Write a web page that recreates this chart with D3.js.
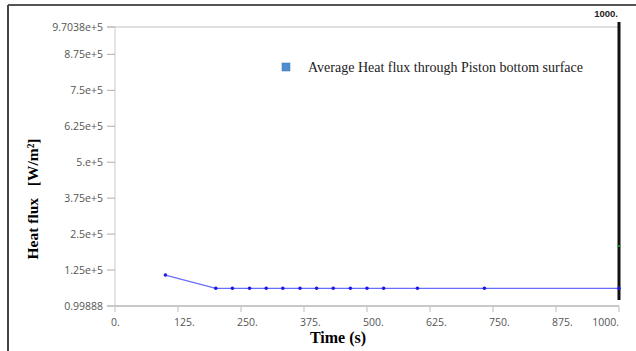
<!DOCTYPE html>
<html lang="en">
<head>
    <meta charset="UTF-8" />
    <title>Heat flux vs time</title>
    <script src="https://d3js.org/d3.v7.min.js"></script>
    <style>
        body { margin: 0; background: #fff; }
        svg { display: block; }
    </style>
</head>
<body>
<div id="chart"></div>
<script>
    // Data
    var times  = [100, 200, 233, 267, 300, 333, 367, 400, 433, 467, 500, 533, 600, 733, 1000];
    var fluxes = [107800, 61600, 61600, 61600, 61600, 61600, 61600, 61600, 61600, 61600, 61600, 61600, 61600, 61600, 61600];
    var xTicks = [0, 125, 250, 375, 500, 625, 750, 875, 1000];
    var yTicks = [0.99888, 125000, 250000, 375000, 500000, 625000, 750000, 875000, 970380];
    var yTickLabels = ["0.99888", "1.25e+5", "2.5e+5", "3.75e+5", "5.e+5", "6.25e+5", "7.5e+5", "8.75e+5", "9.7038e+5"];
    var seriesName = "Average Heat flux through Piston bottom surface";
    var markerTime = 1000;

    var w = 636, h = 351;
    var svg = d3.select("#chart").append("svg")
        .attr("width", w)
        .attr("height", h);

    // outer frame (top + left edges)
    svg.append("line").attr("x1", 8).attr("x2", w).attr("y1", 5).attr("y2", 5)
        .attr("stroke", "#555").attr("stroke-width", 2);
    svg.append("line").attr("x1", 8).attr("x2", 8).attr("y1", 5).attr("y2", h)
        .attr("stroke", "#444").attr("stroke-width", 2);

    var x = d3.scaleLinear().domain([0, 1000]).range([115, 619]);
    var y = d3.scaleLinear().domain([0.99888, 970380]).range([306, 27]);

    var tickFont = "'Open Sans', 'DejaVu Sans', sans-serif";

    // y axis line and top line
    svg.append("line").attr("x1", x(0)).attr("x2", x(0)).attr("y1", y(970380)).attr("y2", y(0.99888))
        .attr("stroke", "#ddd").attr("stroke-width", 1.5);
    svg.append("line").attr("x1", x(0) - 8).attr("x2", x(1000)).attr("y1", y(970380)).attr("y2", y(970380))
        .attr("stroke", "#d4d4d4").attr("stroke-width", 1.5);

    // y ticks
    var yg = svg.append("g");
    yg.selectAll("line").data(yTicks).enter().append("line")
        .attr("x1", x(0) - 8).attr("x2", x(0))
        .attr("y1", function(d) { return y(d); })
        .attr("y2", function(d) { return y(d); })
        .attr("stroke", "#bbb").attr("stroke-width", 1.2);
    yg.selectAll("text").data(yTicks).enter().append("text")
        .attr("x", x(0) - 12)
        .attr("y", function(d) { return y(d) + 3.5; })
        .attr("text-anchor", "end")
        .attr("fill", "#555")
        .style("font-family", tickFont)
        .style("font-size", "10.5px")
        .text(function(d, i) { return yTickLabels[i]; });

    // x axis
    svg.append("line").attr("x1", x(0) - 8).attr("x2", x(1000)).attr("y1", y(0.99888)).attr("y2", y(0.99888))
        .attr("stroke", "#c8c8c8").attr("stroke-width", 2);
    var xg = svg.append("g");
    xg.selectAll("line").data(xTicks).enter().append("line")
        .attr("x1", function(d) { return x(d); })
        .attr("x2", function(d) { return x(d); })
        .attr("y1", y(0.99888)).attr("y2", y(0.99888) + 6)
        .attr("stroke", "#c8c8c8").attr("stroke-width", 1.2);
    xg.selectAll("text").data(xTicks).enter().append("text")
        .attr("x", function(d) { return d === 1000 ? x(d) : x(d) - 4; })
        .attr("y", 326)
        .attr("text-anchor", function(d) { return d === 1000 ? "end" : "start"; })
        .attr("fill", "#555")
        .style("font-family", tickFont)
        .style("font-size", "10.5px")
        .text(function(d) { return d + "."; });

    // axis titles
    svg.append("text")
        .attr("x", 338).attr("y", 343)
        .attr("text-anchor", "middle")
        .style("font-family", "'Liberation Serif', serif")
        .style("font-weight", "bold")
        .style("font-size", "16px")
        .text("Time (s)");
    svg.append("text")
        .attr("transform", "translate(38,199) rotate(-90)")
        .attr("text-anchor", "middle")
        .style("font-family", "'Liberation Serif', serif")
        .style("font-weight", "bold")
        .style("font-size", "15.5px")
        .attr("xml:space", "preserve")
        .text("Heat flux   [W/m\u00b2]");

    // marker line at end time
    svg.append("line")
        .attr("x1", x(markerTime)).attr("x2", x(markerTime))
        .attr("y1", 22).attr("y2", 300)
        .attr("stroke", "#111").attr("stroke-width", 3);
    svg.append("line")
        .attr("x1", x(markerTime) - 1.5).attr("x2", x(markerTime) + 1.5)
        .attr("y1", 246).attr("y2", 246)
        .attr("stroke", "#2a2").attr("stroke-width", 1.5);
    svg.append("text")
        .attr("x", x(markerTime) - 1).attr("y", 17)
        .attr("text-anchor", "end")
        .style("font-family", "'Liberation Sans', Arial, sans-serif")
        .style("font-weight", "bold")
        .style("font-size", "9.5px")
        .attr("fill", "#222")
        .text(markerTime + ".");

    // series line
    var data = times.map(function(t, i) { return { t: t, v: fluxes[i] }; });
    svg.append("path")
        .datum(data)
        .attr("fill", "none")
        .attr("stroke", "#6b6bff")
        .attr("stroke-width", 1.3)
        .attr("d", d3.line().x(function(d) { return x(d.t); }).y(function(d) { return y(d.v); }));
    svg.selectAll("circle.pt").data(data).enter().append("circle")
        .attr("class", "pt")
        .attr("cx", function(d) { return x(d.t); })
        .attr("cy", function(d) { return y(d.v); })
        .attr("r", 1.8)
        .attr("fill", "#1a1ae6");

    // legend
    svg.append("rect")
        .attr("x", 282).attr("y", 63).attr("width", 8).attr("height", 8)
        .attr("fill", "#4f8fd0").attr("stroke", "#3a70aa").attr("stroke-width", 0.5);
    svg.append("text")
        .attr("x", 308).attr("y", 71.5)
        .style("font-family", "'Liberation Serif', serif")
        .style("font-size", "14px")
        .attr("fill", "#222")
        .text(seriesName);
</script>
</body>
</html>
